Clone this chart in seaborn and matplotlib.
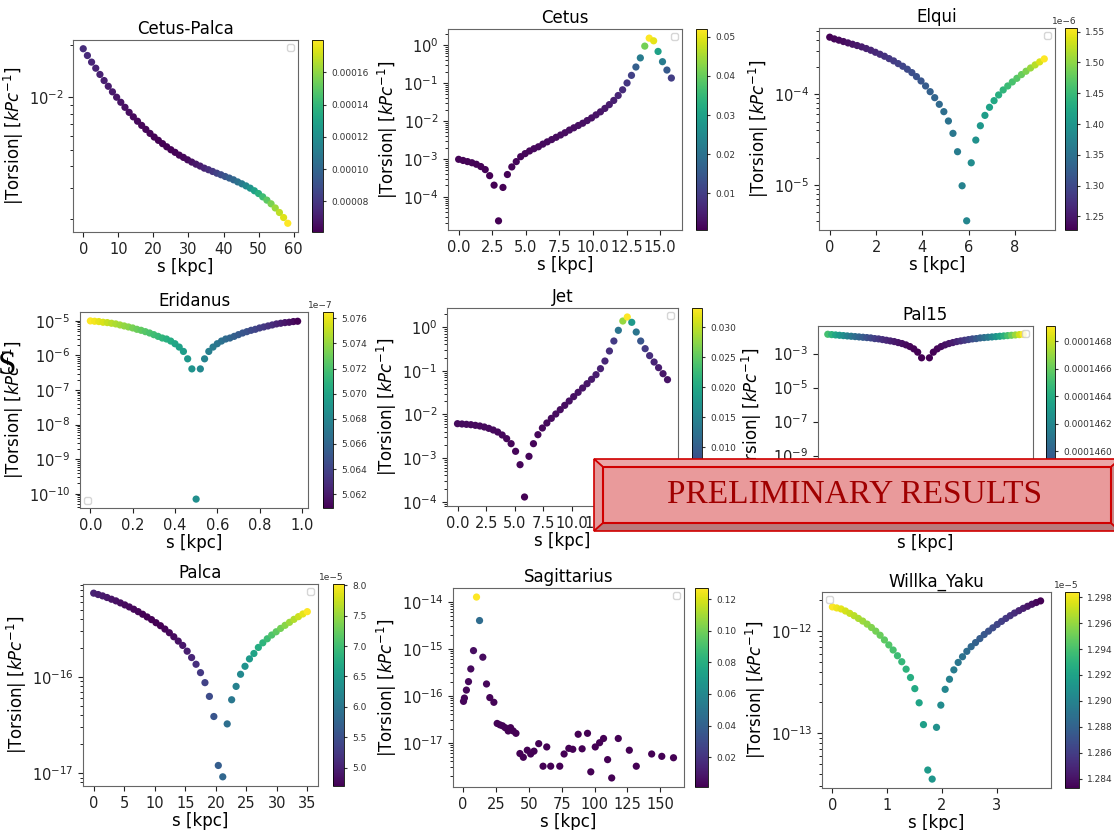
import numpy as np
import pandas as pd
import matplotlib
matplotlib.use("Agg")
import matplotlib.pyplot as plt
import seaborn as sns
from matplotlib.colors import Normalize
from matplotlib.patches import Polygon
from matplotlib.ticker import NullFormatter

# --- data: s [kpc], log10|torsion|, colour value ---
cp_s = [0.0, 1.19, 2.38, 3.57, 4.76, 5.95, 7.14, 8.33, 9.52, 10.71, 11.9, 13.09, 14.28, 15.47, 16.66,
        17.85, 19.04, 20.23, 21.42, 22.61, 23.8, 24.99, 26.18, 27.37, 28.56, 29.75, 30.94, 32.13, 33.32,
        34.51, 35.7, 36.89, 38.08, 39.27, 40.46, 41.65, 42.84, 44.03, 45.22, 46.41, 47.6, 48.79, 49.98,
        51.17, 52.36, 53.55, 54.74, 55.93, 57.12, 58.31]
cp_logt = [-1.721, -1.760, -1.798, -1.833, -1.869, -1.904, -1.937, -1.969, -2.000, -2.029, -2.058, -2.087,
           -2.113, -2.138, -2.162, -2.185, -2.208, -2.229, -2.248, -2.267, -2.285, -2.302, -2.317, -2.333,
           -2.346, -2.360, -2.373, -2.385, -2.396, -2.408, -2.417, -2.427, -2.437, -2.446, -2.456, -2.465,
           -2.475, -2.487, -2.498, -2.510, -2.523, -2.538, -2.554, -2.573, -2.592, -2.613, -2.637, -2.663,
           -2.692, -2.725]
cp_col = [7.6, 7.5, 7.4, 7.3, 7.2, 7.1, 7.0, 6.9, 6.8, 6.7, 6.6, 6.5, 6.4, 6.35, 6.3, 6.25, 6.2, 6.15,
          6.1, 6.1, 6.1, 6.1, 6.15, 6.2, 6.3, 6.4, 6.6, 6.8, 7.0, 7.3, 7.6, 8.0, 8.4, 8.8, 9.2, 9.6, 10.0,
          10.5, 11.0, 11.6, 12.2, 12.9, 13.6, 14.3, 15.0, 15.6, 16.2, 16.8, 17.4, 18.0]  # x1e-5

ce_s = [0.0, 0.33, 0.66, 0.99, 1.32, 1.65, 1.98, 2.31, 2.64, 2.97, 3.3, 3.63, 3.96, 4.29, 4.62, 4.95,
        5.28, 5.61, 5.94, 6.27, 6.6, 6.93, 7.26, 7.59, 7.92, 8.25, 8.58, 8.91, 9.24, 9.57, 9.9, 10.23,
        10.56, 10.89, 11.22, 11.55, 11.88, 12.21, 12.54, 12.87, 13.2, 13.53, 13.86, 14.19, 14.52, 14.85,
        15.18, 15.51, 15.84]
ce_logt = [-3.01, -3.04, -3.07, -3.10, -3.14, -3.20, -3.28, -3.44, -3.69, -4.63, -3.75, -3.41, -3.21,
           -3.07, -2.94, -2.86, -2.79, -2.73, -2.68, -2.61, -2.55, -2.49, -2.43, -2.37, -2.31, -2.24,
           -2.18, -2.12, -2.06, -1.99, -1.92, -1.84, -1.76, -1.67, -1.57, -1.46, -1.33, -1.18, -1.00,
           -0.80, -0.58, -0.34, -0.03, 0.18, 0.11, -0.17, -0.44, -0.66, -0.87]
ce_col = [0.0012, 0.0012, 0.0011, 0.0011, 0.0010, 0.0010, 0.0009, 0.0008, 0.0007, 0.0006, 0.0008,
          0.0010, 0.0012, 0.0013, 0.0014, 0.0015, 0.0016, 0.0017, 0.0018, 0.0019, 0.0020, 0.0021,
          0.0022, 0.0023, 0.0024, 0.0025, 0.0026, 0.0027, 0.0028, 0.0029, 0.0030, 0.0033, 0.0036,
          0.0040, 0.0045, 0.0050, 0.0060, 0.0070, 0.0085, 0.0105, 0.0160, 0.0220, 0.0410, 0.0520,
          0.0500, 0.0300, 0.0220, 0.0150, 0.0100]

el_s = [0.0, 0.197, 0.394, 0.591, 0.788, 0.985, 1.182, 1.379, 1.576, 1.773, 1.97, 2.167, 2.364, 2.561,
        2.758, 2.955, 3.152, 3.349, 3.546, 3.743, 3.94, 4.137, 4.334, 4.531, 4.728, 4.925, 5.122, 5.319,
        5.516, 5.713, 5.91, 6.107, 6.304, 6.501, 6.698, 6.895, 7.092, 7.289, 7.486, 7.683, 7.88, 8.077,
        8.274, 8.471, 8.668, 8.865, 9.062, 9.259]
el_logt = [-3.371, -3.390, -3.404, -3.419, -3.434, -3.449, -3.463, -3.478, -3.496, -3.515, -3.537,
           -3.559, -3.581, -3.607, -3.632, -3.662, -3.691, -3.724, -3.761, -3.805, -3.853, -3.908,
           -3.971, -4.037, -4.110, -4.191, -4.294, -4.430, -4.632, -5.007, -5.393, -4.754, -4.504,
           -4.346, -4.232, -4.143, -4.070, -4.007, -3.952, -3.908, -3.864, -3.824, -3.783, -3.746,
           -3.710, -3.676, -3.643, -3.610]
el_col = [1.228, 1.232, 1.235, 1.238, 1.241, 1.245, 1.249, 1.253, 1.257, 1.261, 1.265, 1.270, 1.275,
          1.280, 1.285, 1.290, 1.295, 1.300, 1.305, 1.310, 1.316, 1.322, 1.328, 1.334, 1.340, 1.346,
          1.352, 1.358, 1.365, 1.372, 1.379, 1.386, 1.393, 1.401, 1.409, 1.417, 1.425, 1.433, 1.442,
          1.451, 1.460, 1.470, 1.480, 1.491, 1.505, 1.520, 1.538, 1.556]  # x1e-6

er_s = [0.00, 0.02, 0.04, 0.06, 0.08, 0.10, 0.12, 0.14, 0.16, 0.18, 0.20, 0.22, 0.24, 0.26, 0.28, 0.30,
        0.32, 0.34, 0.36, 0.38, 0.40, 0.42, 0.44, 0.46, 0.48, 0.50, 0.52, 0.54, 0.56, 0.58, 0.60, 0.62,
        0.64, 0.66, 0.68, 0.70, 0.72, 0.74, 0.76, 0.78, 0.80, 0.82, 0.84, 0.86, 0.88, 0.90, 0.92, 0.94,
        0.96, 0.98]
er_logt = [-5.000, -5.010, -5.019, -5.039, -5.049, -5.068, -5.087, -5.117, -5.146, -5.175, -5.204,
           -5.243, -5.272, -5.311, -5.350, -5.398, -5.447, -5.495, -5.524, -5.583, -5.660, -5.757,
           -5.883, -6.097, -6.388, -10.155, -6.388, -6.097, -5.883, -5.757, -5.660, -5.583, -5.524,
           -5.495, -5.447, -5.398, -5.350, -5.311, -5.272, -5.243, -5.204, -5.175, -5.146, -5.117,
           -5.087, -5.068, -5.049, -5.039, -5.019, -5.010]
er_col = [5.0765, 5.0762, 5.0759, 5.0756, 5.0752, 5.0749, 5.0746, 5.0743, 5.0740, 5.0737, 5.0733,
          5.0730, 5.0727, 5.0724, 5.0721, 5.0717, 5.0714, 5.0711, 5.0708, 5.0705, 5.0701, 5.0698,
          5.0695, 5.0692, 5.0689, 5.0686, 5.0682, 5.0679, 5.0676, 5.0673, 5.0670, 5.0667, 5.0663,
          5.0660, 5.0657, 5.0654, 5.0651, 5.0648, 5.0644, 5.0641, 5.0638, 5.0635, 5.0632, 5.0629,
          5.0625, 5.0622, 5.0619, 5.0616, 5.0613, 5.0609]  # x1e-7

je_s = [0.0, 0.391, 0.782, 1.173, 1.564, 1.955, 2.346, 2.737, 3.128, 3.519, 3.91, 4.301, 4.692, 5.083,
        5.474, 5.865, 6.256, 6.647, 7.038, 7.429, 7.82, 8.211, 8.602, 8.993, 9.384, 9.775, 10.166,
        10.557, 10.948, 11.339, 11.73, 12.121, 12.512, 12.903, 13.294, 13.685, 14.076, 14.467, 14.858,
        15.249, 15.64, 16.031, 16.422, 16.813, 17.204, 17.595, 17.986, 18.377]
je_logt = [-2.214, -2.221, -2.229, -2.237, -2.252, -2.267, -2.290, -2.321, -2.359, -2.405, -2.473,
           -2.557, -2.672, -2.847, -3.153, -3.893, -2.962, -2.672, -2.466, -2.313, -2.198, -2.092,
           -1.992, -1.893, -1.794, -1.695, -1.595, -1.496, -1.397, -1.298, -1.198, -1.092, -0.954,
           -0.779, -0.550, -0.321, -0.076, 0.137, 0.229, 0.107, -0.115, -0.321, -0.496, -0.656,
           -0.802, -0.931, -1.069, -1.206]
je_col = [0.0012, 0.0012, 0.0012, 0.0011, 0.0011, 0.0011, 0.0010, 0.0010, 0.0010, 0.0009, 0.0009,
          0.0008, 0.0008, 0.0007, 0.0006, 0.0002, 0.0006, 0.0007, 0.0008, 0.0009, 0.0010, 0.0011,
          0.0012, 0.0013, 0.0014, 0.0015, 0.0016, 0.0018, 0.0020, 0.0022, 0.0025, 0.0028, 0.0032,
          0.0038, 0.0045, 0.0060, 0.0130, 0.0280, 0.0332, 0.0180, 0.0130, 0.0090, 0.0060, 0.0045,
          0.0035, 0.0028, 0.0022, 0.0020]

pa15_s = [0.00, 0.02, 0.04, 0.06, 0.08, 0.10, 0.12, 0.14, 0.16, 0.18, 0.20, 0.22, 0.24, 0.26, 0.28,
          0.30, 0.32, 0.34, 0.36, 0.38, 0.40, 0.42, 0.44, 0.46, 0.48, 0.50, 0.52, 0.54, 0.56, 0.58,
          0.60, 0.62, 0.64, 0.66, 0.68, 0.70, 0.72, 0.74, 0.76, 0.78, 0.80, 0.82, 0.84, 0.86, 0.88,
          0.90, 0.92, 0.94, 0.96, 0.98, 1.00]
pa15_logt = [-1.869, -1.889, -1.908, -1.928, -1.947, -1.967, -1.986, -2.006, -2.025, -2.045, -2.064,
             -2.084, -2.123, -2.142, -2.181, -2.220, -2.259, -2.298, -2.357, -2.415, -2.493, -2.591,
             -2.727, -2.922, -3.253, -11.600, -3.253, -2.922, -2.727, -2.591, -2.493, -2.415, -2.357,
             -2.298, -2.259, -2.220, -2.181, -2.142, -2.123, -2.084, -2.064, -2.045, -2.025, -2.006,
             -1.986, -1.967, -1.947, -1.928, -1.908, -1.889, -1.869]
pa15_col = [1.46514, 1.46441, 1.46371, 1.46305, 1.46242, 1.46181, 1.46123, 1.46069, 1.46018, 1.45969,
            1.45923, 1.45880, 1.45839, 1.45803, 1.45770, 1.45738, 1.45710, 1.45685, 1.45663, 1.45643,
            1.45627, 1.45614, 1.45603, 1.45595, 1.45591, 1.45590, 1.45592, 1.45598, 1.45609, 1.45624,
            1.45643, 1.45666, 1.45693, 1.45725, 1.45761, 1.45801, 1.45846, 1.45894, 1.45947, 1.46004,
            1.46065, 1.46131, 1.46200, 1.46274, 1.46352, 1.46435, 1.46521, 1.46612, 1.46707, 1.46807,
            1.46910]  # x1e-4

pc_s = [0.0, 0.729, 1.458, 2.187, 2.916, 3.645, 4.374, 5.103, 5.832, 6.561, 7.29, 8.019, 8.748, 9.477,
        10.206, 10.935, 11.664, 12.393, 13.122, 13.851, 14.58, 15.309, 16.038, 16.767, 17.496, 18.225,
        18.954, 19.683, 20.412, 21.141, 21.87, 22.599, 23.328, 24.057, 24.786, 25.515, 26.244, 26.973,
        27.702, 28.431, 29.16, 29.889, 30.618, 31.347, 32.076, 32.805, 33.534, 34.263, 34.992]
pc_logt = [-15.129, -15.143, -15.157, -15.174, -15.192, -15.209, -15.230, -15.251, -15.272, -15.296,
           -15.321, -15.348, -15.376, -15.404, -15.436, -15.467, -15.502, -15.540, -15.582, -15.627,
           -15.672, -15.732, -15.798, -15.868, -15.955, -16.059, -16.202, -16.411, -16.920, -17.038,
           -16.488, -16.237, -16.098, -15.972, -15.889, -15.812, -15.756, -15.693, -15.645, -15.603,
           -15.564, -15.530, -15.495, -15.463, -15.432, -15.401, -15.373, -15.345, -15.321]
pc_col = [5.00, 4.97, 4.94, 4.91, 4.88, 4.85, 4.82, 4.80, 4.78, 4.76, 4.74, 4.72, 4.71, 4.70, 4.70,
          4.71, 4.73, 4.76, 4.80, 4.85, 4.91, 4.98, 5.06, 5.15, 5.25, 5.35, 5.46, 5.57, 5.68, 5.79,
          5.90, 6.02, 6.14, 6.26, 6.38, 6.50, 6.62, 6.74, 6.86, 6.98, 7.09, 7.20, 7.31, 7.42, 7.53,
          7.64, 7.75, 7.88, 8.02]  # x1e-5

sg_s = [0.3, 1.0, 2.5, 4.1, 5.85, 7.9, 10.2, 12.5, 15.0, 17.8, 20.3, 23.4, 25.9, 28.0, 30.0, 32.0,
        34.3, 36.1, 38.1, 40.2, 43.2, 45.8, 48.8, 51.4, 53.9, 57.5, 60.8, 63.6, 66.6, 73.5, 76.8, 80.4,
        83.4, 87.5, 90.5, 94.6, 97.1, 100.5, 103.8, 106.8, 109.9, 113.0, 118.0, 126.4, 131.7, 143.4,
        151.1, 160.0]
sg_logt = [-16.12, -16.05, -15.88, -15.70, -15.43, -15.04, -13.90, -14.40, -15.18, -15.75, -16.04,
           -16.14, -16.59, -16.62, -16.64, -16.68, -16.75, -16.68, -16.75, -16.80, -17.23, -17.31,
           -17.16, -17.24, -17.18, -17.02, -17.50, -17.09, -17.50, -17.50, -17.24, -17.12, -17.14,
           -16.82, -17.13, -16.80, -17.62, -17.09, -17.00, -16.91, -17.36, -17.75, -16.91, -17.16,
           -17.50, -17.24, -17.29, -17.32]
sg_col = [0.0030, 0.0028, 0.0035, 0.0040, 0.0045, 0.0060, 0.1270, 0.0450, 0.0050, 0.0035, 0.0025,
          0.0022, 0.0018, 0.0017, 0.0016, 0.0016, 0.0015, 0.0015, 0.0014, 0.0014, 0.0013, 0.0013,
          0.0013, 0.0012, 0.0012, 0.0012, 0.0012, 0.0011, 0.0012, 0.0012, 0.0012, 0.0011, 0.0012,
          0.0012, 0.0013, 0.0012, 0.0012, 0.0011, 0.0012, 0.0012, 0.0012, 0.0011, 0.0012, 0.0011,
          0.0012, 0.0012, 0.0011, 0.0012]

wy_s = [0.0, 0.079, 0.158, 0.238, 0.317, 0.396, 0.475, 0.554, 0.634, 0.713, 0.792, 0.871, 0.95, 1.03,
        1.109, 1.188, 1.267, 1.346, 1.426, 1.505, 1.584, 1.663, 1.742, 1.822, 1.901, 1.98, 2.059,
        2.138, 2.218, 2.297, 2.376, 2.455, 2.534, 2.614, 2.693, 2.772, 2.851, 2.93, 3.01, 3.089,
        3.168, 3.247, 3.326, 3.406, 3.485, 3.564, 3.643, 3.722, 3.802]
wy_logt = [-11.762, -11.772, -11.782, -11.802, -11.825, -11.848, -11.875, -11.901, -11.931, -11.964,
           -12.000, -12.040, -12.086, -12.135, -12.185, -12.241, -12.300, -12.373, -12.455, -12.564,
           -12.703, -12.917, -13.363, -13.452, -12.944, -12.726, -12.571, -12.472, -12.380, -12.307,
           -12.251, -12.198, -12.152, -12.112, -12.073, -12.033, -12.000, -11.967, -11.934, -11.904,
           -11.875, -11.848, -11.822, -11.799, -11.776, -11.756, -11.736, -11.719, -11.703]
wy_col = [1.29840, 1.29808, 1.29777, 1.29745, 1.29714, 1.29682, 1.29651, 1.29619, 1.29588, 1.29556,
          1.29525, 1.29493, 1.29462, 1.29430, 1.29399, 1.29367, 1.29336, 1.29304, 1.29273, 1.29241,
          1.29210, 1.29178, 1.29147, 1.29115, 1.29084, 1.29052, 1.29021, 1.28989, 1.28958, 1.28926,
          1.28895, 1.28863, 1.28832, 1.28800, 1.28769, 1.28737, 1.28706, 1.28674, 1.28643, 1.28611,
          1.28580, 1.28548, 1.28517, 1.28485, 1.28454, 1.28422, 1.28391, 1.28359, 1.28328]  # x1e-5

W, H = 1114, 830
fig = plt.figure(figsize=(W / 100, H / 100), dpi=100)


def box(x0, y0, x1, y1):
    # pixel box (top-left origin) -> figure fraction rect
    return [x0 / W, 1 - y1 / H, (x1 - x0) / W, (y1 - y0) / H]


def draw_panel(title, s, logt, col, scale, ax_px, cb_px, xticks, yticks, cticks, leg_loc):
    ax = fig.add_axes(box(*ax_px))
    ax.set_yscale("log")
    df = pd.DataFrame({"s": s, "torsion": np.power(10.0, logt), "c": np.asarray(col) * scale})
    norm = Normalize(df["c"].min(), df["c"].max())
    sns.scatterplot(data=df, x="s", y="torsion", hue="c", palette="viridis", hue_norm=norm,
                    legend=False, s=27, linewidth=0, ax=ax)
    if xticks is not None:
        ax.set_xticks(xticks)
    ax.set_yticks(yticks)
    ax.yaxis.set_minor_formatter(NullFormatter())
    ax.set_title(title, fontsize=12, pad=4)
    ax.set_xlabel("s [kpc]", fontsize=12, labelpad=1)
    ax.set_ylabel(r"|Torsion| [$kPc^{-1}$]", fontsize=12, labelpad=2)
    ax.tick_params(labelsize=10.5, colors="#222222")
    for sp in ax.spines.values():
        sp.set_color("#666666")
    ax.legend(loc=leg_loc, fontsize=6)

    cax = fig.add_axes(box(*cb_px))
    cb = fig.colorbar(plt.cm.ScalarMappable(norm=norm, cmap="viridis"), cax=cax)
    cb.set_ticks(cticks)
    cb.ax.tick_params(labelsize=6.5, length=2.5, colors="#333333")
    cb.ax.yaxis.get_offset_text().set_fontsize(6.5)
    cb.outline.set_linewidth(0.6)
    return ax


draw_panel("Cetus-Palca", cp_s, cp_logt, cp_col, 1e-5, (73, 40, 298, 232), (312, 40, 323, 232),
           [0, 10, 20, 30, 40, 50, 60], [1e-2], [8e-5, 1e-4, 1.2e-4, 1.4e-4, 1.6e-4], "upper right")
draw_panel("Cetus", ce_s, ce_logt, ce_col, 1.0, (448, 29, 682, 230), (696, 29, 707, 230),
           [0, 2.5, 5, 7.5, 10, 12.5, 15], [1, 1e-1, 1e-2, 1e-3, 1e-4],
           [0.01, 0.02, 0.03, 0.04, 0.05], "upper right")
draw_panel("Elqui", el_s, el_logt, el_col, 1e-6, (819, 28, 1055, 230), (1065, 28, 1077, 230),
           [0, 2, 4, 6, 8], [1e-4, 1e-5],
           [1.25e-6, 1.30e-6, 1.35e-6, 1.40e-6, 1.45e-6, 1.50e-6, 1.55e-6], "upper right")
draw_panel("Eridanus", er_s, er_logt, er_col, 1e-7, (80, 312, 308, 508), (323, 312, 333, 508),
           [0, 0.2, 0.4, 0.6, 0.8, 1.0], [1e-5, 1e-6, 1e-7, 1e-8, 1e-9, 1e-10],
           [5.062e-7, 5.064e-7, 5.066e-7, 5.068e-7, 5.070e-7, 5.072e-7, 5.074e-7, 5.076e-7], "lower left")
draw_panel("Jet", je_s, je_logt, je_col, 1.0, (447, 308, 678, 506), (692, 308, 702, 506),
           [0, 2.5, 5, 7.5, 10, 12.5, 15, 17.5], [1, 1e-1, 1e-2, 1e-3, 1e-4],
           [0.005, 0.010, 0.015, 0.020, 0.025, 0.030], "upper right")
draw_panel("Pal15", pa15_s, pa15_logt, pa15_col, 1e-4, (818, 326, 1033, 508), (1046, 326, 1055, 508),
           None, [1e-3, 1e-5, 1e-7, 1e-9, 1e-11],
           [1.460e-4, 1.462e-4, 1.464e-4, 1.466e-4, 1.468e-4], "upper right")
draw_panel("Palca", pc_s, pc_logt, pc_col, 1e-5, (83, 584, 318, 786), (333, 584, 344, 786),
           [0, 5, 10, 15, 20, 25, 30, 35], [1e-16, 1e-17],
           [5.0e-5, 5.5e-5, 6.0e-5, 6.5e-5, 7.0e-5, 7.5e-5, 8.0e-5], "upper right")
draw_panel("Sagittarius", sg_s, sg_logt, sg_col, 1.0, (453, 588, 684, 787), (695, 588, 708, 787),
           [0, 25, 50, 75, 100, 125, 150], [1e-14, 1e-15, 1e-16, 1e-17],
           [0.02, 0.04, 0.06, 0.08, 0.10, 0.12], "upper right")
draw_panel("Willka_Yaku", wy_s, wy_logt, wy_col, 1e-5, (822, 592, 1051, 788), (1065, 592, 1079, 788),
           [0, 1, 2, 3], [1e-12, 1e-13],
           [1.284e-5, 1.286e-5, 1.288e-5, 1.290e-5, 1.292e-5, 1.294e-5, 1.296e-5, 1.298e-5], "upper left")

# stray serif letter at the left edge of the slide
fig.text(-2 / W, 1 - 366 / H, "S", fontsize=24, family="Liberation Serif", va="center", ha="left",
         zorder=11)


# "PRELIMINARY RESULTS" bevelled banner
def pts(*xy):
    return [(x / W, 1 - y / H) for x, y in xy]


bevels = [
    (pts((594, 459), (1120, 459), (1111, 467), (603, 467)), "#eba6a7"),
    (pts((594, 459), (603, 467), (603, 523), (594, 531)), "#e49a9b"),
    (pts((594, 531), (603, 523), (1111, 523), (1120, 531)), "#b87a7b"),
    (pts((1111, 467), (1120, 459), (1120, 531), (1111, 523)), "#c98a8b"),
]
for poly, colour in bevels:
    fig.add_artist(Polygon(poly, closed=True, transform=fig.transFigure, facecolor=colour,
                           edgecolor="#d00000", linewidth=1.2, zorder=10))
fig.add_artist(Polygon(pts((603, 467), (1111, 467), (1111, 523), (603, 523)), closed=True,
                       transform=fig.transFigure, facecolor="#e99a9b", edgecolor="#d00000",
                       linewidth=1.5, zorder=10))
fig.text(855 / W, 1 - 495 / H, "PRELIMINARY RESULTS", fontsize=24, family="Liberation Serif",
         color="#a00000", ha="center", va="center", zorder=11)

fig.savefig("out.png", dpi=100)
